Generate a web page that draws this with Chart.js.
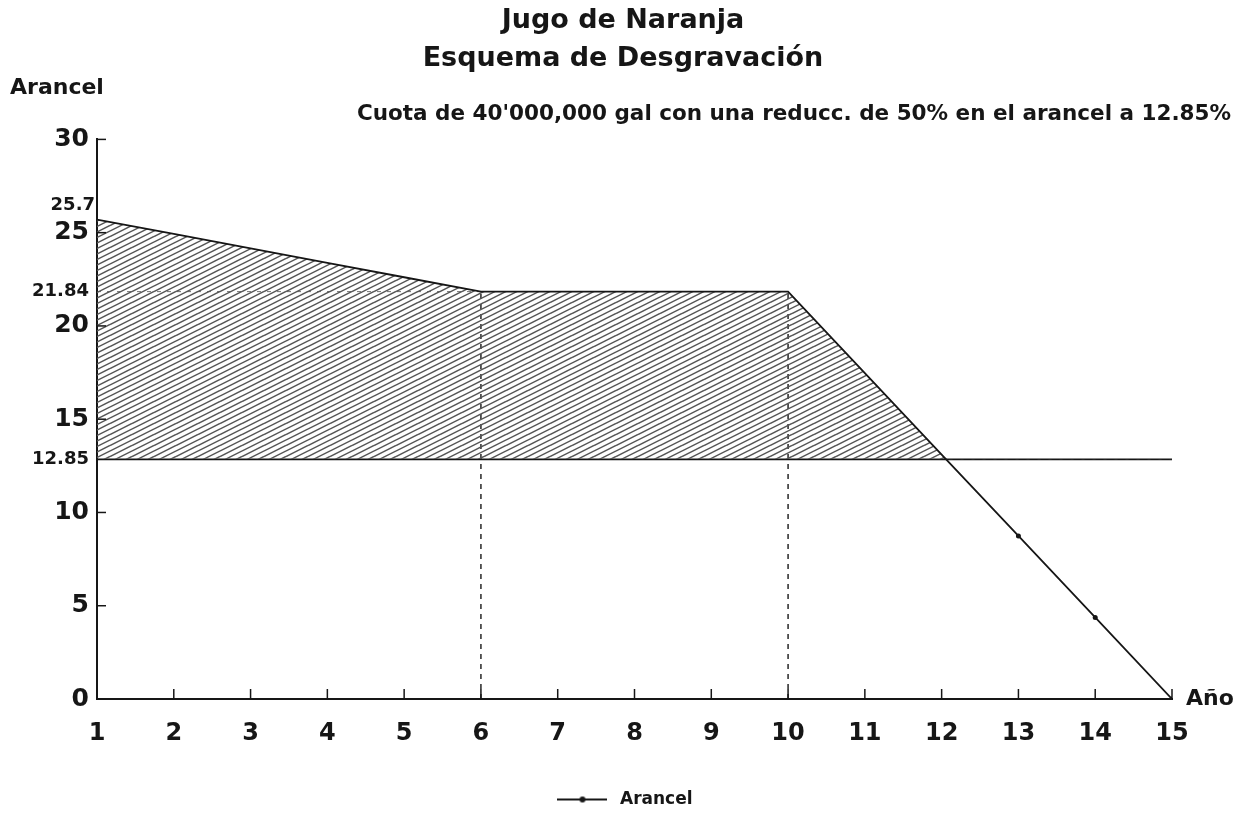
<!DOCTYPE html>
<html>
<head>
<meta charset="utf-8">
<script src="https://cdn.jsdelivr.net/npm/chart.js@4.4.1/dist/chart.umd.min.js"></script>
<style>
  html, body { margin: 0; padding: 0; background: #fff; }
</style>
</head>
<body>
<canvas id="chart" width="1246" height="836"></canvas>
<script>
const years = [1, 2, 3, 4, 5, 6, 7, 8, 9, 10, 11, 12, 13, 14, 15];
const arancel = [25.7, 24.93, 24.16, 23.38, 22.61, 21.84, 21.84, 21.84, 21.84, 21.84, 17.47, 13.1, 8.74, 4.37, 0];
const quota = 12.85;
const guideYears = [6, 10];
const guideLevel = 21.84;
const startLevel = 25.7;
const yTicks = [0, 5, 10, 12.85, 15, 20, 21.84, 25, 30];
const yMajor = [0, 5, 10, 15, 20, 25, 30];

const FONT = "'DejaVu Sans', 'Liberation Sans', sans-serif";
const INK = "#161616";

const ctx = document.getElementById("chart").getContext("2d");

// diagonal hatch tile, two lines per tile
const tile = document.createElement("canvas");
tile.width = 22;
tile.height = 11;
const tctx = tile.getContext("2d");
tctx.strokeStyle = "#555";
tctx.lineWidth = 1.4;
for (let k = -4; k <= 4; k++) {
  tctx.beginPath();
  tctx.moveTo(0, 11 + 5.5 * k);
  tctx.lineTo(22, 5.5 * k);
  tctx.stroke();
}
const hatch = ctx.createPattern(tile, "repeat");

// legend symbol: line with a dot
const legendSymbol = document.createElement("canvas");
legendSymbol.width = 50;
legendSymbol.height = 10;
const lctx = legendSymbol.getContext("2d");
lctx.strokeStyle = INK;
lctx.lineWidth = 2;
lctx.beginPath();
lctx.moveTo(0, 5);
lctx.lineTo(50, 5);
lctx.stroke();
lctx.fillStyle = INK;
lctx.beginPath();
lctx.arc(25, 5, 3, 0, Math.PI * 2);
lctx.fill();

const guideData = [];
guideYears.forEach((yr) => {
  guideData.push({ x: yr, y: 0 }, { x: yr, y: guideLevel }, { x: NaN, y: NaN });
});

const axisExtras = {
  id: "axisExtras",
  afterDatasetsDraw(chart) {
    const { ctx, chartArea, scales } = chart;
    const x = scales.x, y = scales.y;
    ctx.save();
    ctx.strokeStyle = INK;
    ctx.lineWidth = 1.5;
    yMajor.forEach((v) => {
      const py = y.getPixelForValue(v);
      ctx.beginPath();
      ctx.moveTo(chartArea.left, py);
      ctx.lineTo(chartArea.left + 9, py);
      ctx.stroke();
    });
    years.slice(1).forEach((v) => {
      const px = x.getPixelForValue(v);
      ctx.beginPath();
      ctx.moveTo(px, chartArea.bottom);
      ctx.lineTo(px, chartArea.bottom - 10);
      ctx.stroke();
    });
    ctx.fillStyle = INK;
    ctx.font = "bold 22px " + FONT;
    ctx.textBaseline = "middle";
    ctx.textAlign = "left";
    ctx.fillText("Arancel", 10, 88);
    ctx.fillText("Año", chartArea.right + 14, chartArea.bottom);
    // starting level label sits above the 25 tick, as in the original
    ctx.font = "bold 18px " + FONT;
    ctx.textAlign = "right";
    ctx.fillText(String(startLevel), chartArea.left - 2, y.getPixelForValue(startLevel) - 14);
    ctx.restore();
  },
};

new Chart(ctx, {
  type: "line",
  data: {
    datasets: [
      {
        label: "Arancel",
        data: years.map((yr, i) => ({ x: yr, y: arancel[i] })),
        borderColor: INK,
        borderWidth: 1.8,
        pointRadius: (c) => (c.raw && c.raw.y < quota ? 2.5 : 0),
        pointBackgroundColor: INK,
        pointBorderWidth: 0,
        tension: 0,
        fill: { target: { value: quota }, above: hatch, below: "rgba(0,0,0,0)" },
        order: 1,
      },
      {
        label: "cuota",
        data: [{ x: years[0], y: quota }, { x: years[years.length - 1], y: quota }],
        borderColor: INK,
        borderWidth: 1.8,
        pointRadius: 0,
        fill: false,
        order: 2,
      },
      {
        label: "guias",
        data: guideData,
        borderColor: INK,
        borderWidth: 1.4,
        borderDash: [5, 5],
        pointRadius: 0,
        spanGaps: false,
        fill: false,
        order: 3,
      },
      {
        label: "nivel",
        data: [{ x: years[0], y: guideLevel }, { x: guideYears[0], y: guideLevel }],
        borderColor: "rgba(20,20,20,0.6)",
        borderWidth: 1,
        borderDash: [4, 6],
        pointRadius: 0,
        fill: false,
        order: 4,
      },
    ],
  },
  options: {
    responsive: false,
    animation: false,
    layout: { padding: { top: 2, left: 0, right: 0, bottom: 18 } },
    plugins: {
      title: {
        display: true,
        text: ["Jugo de Naranja", "Esquema de Desgravación"],
        color: INK,
        font: { family: FONT, size: 27, weight: "bold", lineHeight: 1.4 },
        padding: { top: 0, bottom: 24 },
      },
      subtitle: {
        display: true,
        text: "Cuota de 40'000,000 gal con una reducc. de 50% en el arancel a 12.85%\u00a0\u00a0",
        align: "end",
        color: INK,
        font: { family: FONT, size: 21.5, weight: "bold" },
        padding: { top: 0, bottom: 12 },
      },
      legend: {
        position: "bottom",
        labels: {
          color: INK,
          font: { family: FONT, size: 17, weight: "bold" },
          usePointStyle: true,
          pointStyleWidth: 58,
          padding: 12,
          filter: (item) => item.datasetIndex === 0,
          generateLabels: (chart) =>
            Chart.defaults.plugins.legend.labels.generateLabels(chart).map((item) => ({
              ...item,
              pointStyle: legendSymbol,
            })),
        },
      },
      tooltip: { enabled: false },
    },
    scales: {
      x: {
        type: "linear",
        min: 1,
        max: 15,
        afterBuildTicks: (scale) => {
          scale.ticks = years.map((v) => ({ value: v }));
        },
        afterFit: (scale) => {
          scale.height = 80;
          scale.paddingRight = 74;
        },
        ticks: {
          color: INK,
          font: { family: FONT, size: 24, weight: "bold" },
          padding: 20,
          maxRotation: 0,
          autoSkip: false,
        },
        grid: { display: false, tickLength: 0 },
        border: { display: true, color: INK, width: 2 },
      },
      y: {
        type: "linear",
        min: 0,
        max: 30,
        afterBuildTicks: (scale) => {
          scale.ticks = yTicks.map((v) => ({ value: v }));
        },
        afterFit: (scale) => {
          scale.width = 97;
        },
        ticks: {
          color: INK,
          padding: 8,
          autoSkip: false,
          callback: (v) => String(v),
          font: (c) =>
            yMajor.includes(c.tick && c.tick.value)
              ? { family: FONT, size: 25, weight: "bold" }
              : { family: FONT, size: 18, weight: "bold" },
        },
        grid: { display: false, tickLength: 0 },
        border: { display: true, color: INK, width: 2 },
      },
    },
  },
  plugins: [axisExtras],
});
</script>
</body>
</html>
